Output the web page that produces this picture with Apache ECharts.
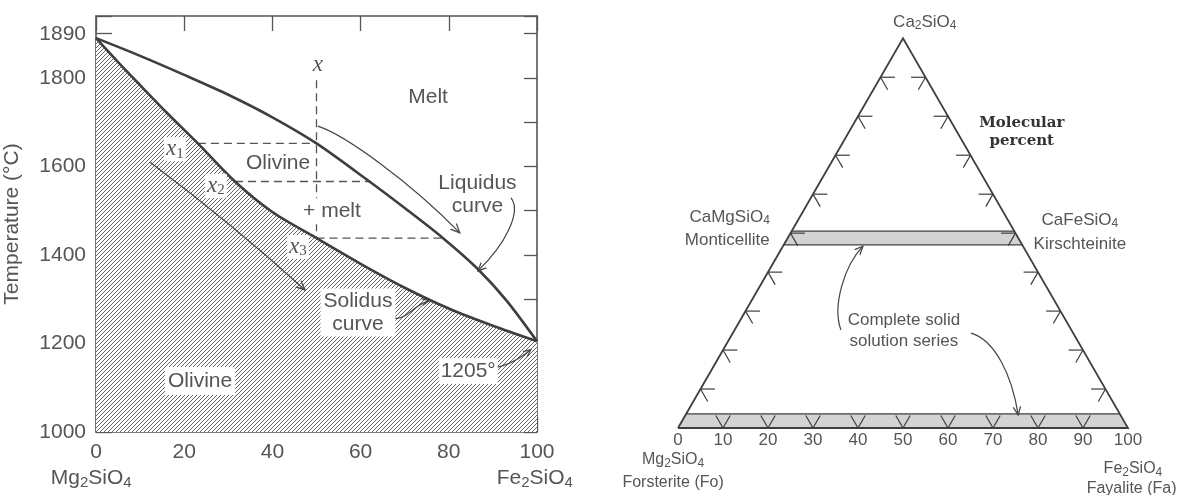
<!DOCTYPE html>
<html>
<head>
<meta charset="utf-8">
<title>Olivine phase diagram</title>
<script src="https://cdn.jsdelivr.net/npm/echarts@6.0.0/dist/echarts.min.js"></script>
<style>
html,body{margin:0;padding:0;background:#fff;}
#chart{width:1178px;height:495px;}
</style>
</head>
<body>
<div id="chart"></div>
<script>
// ---------- data: Mg2SiO4 – Fe2SiO4 binary diagram ----------
const compTicks = [0, 20, 40, 60, 80, 100];
const tempLabels = [1000, 1200, 1400, 1600, 1800];
const meltMg = 1890;
const meltFe = 1205;
const liquidusX = [0, 10, 20, 30, 40, 50, 62, 70, 78.7, 86.4, 93, 100];
const liquidusT = [1890, 1850, 1807, 1762, 1711, 1652, 1566, 1506, 1438, 1370, 1298, 1205];
const solidusX = [0, 5, 10, 16, 23.1, 31.5, 40, 50, 60, 70, 80, 90, 100];
const solidusT = [1890, 1836, 1784, 1722, 1652, 1566, 1497, 1438, 1380, 1326, 1279, 1240, 1205];
const bulkX = 50;
const bulkDashT = [1795, 1438];
const bulkSolidT = [1362, 1000];
const tieT = [1652, 1566, 1438];
const tieSolidX = [23.1, 31.5, 50];
const tieLiquidX = [50, 62, 78.7];

// ---------- data: Ca2SiO4 – Mg2SiO4 – Fe2SiO4 ternary ----------
const ternLabels = [0, 10, 20, 30, 40, 50, 60, 70, 80, 90, 100];
const ternTicks = [10, 20, 30, 40, 50, 60, 70, 80, 90];
const bandBottomCa = [0, 3.6];
const bandMidCa = [47, 50.5];

// ---------- styling ----------
const TXT = '#555';
const LINE = '#3e3e3e';
const FRAME = '#555';
const SANS = '"Liberation Sans", Arial, sans-serif';
const SERIF = '"Liberation Serif", "Times New Roman", serif';
const H = Math.sqrt(3) / 2;
// ternary -> cartesian (fa = Fe2SiO4 %, ca = Ca2SiO4 %)
function tern(fa, ca) { return [fa + ca / 2, ca * H]; }

// hatch pattern
const hatch = (function () {
  const s = 8, c = document.createElement('canvas');
  c.width = s; c.height = s;
  const g = c.getContext('2d');
  g.fillStyle = '#fff'; g.fillRect(0, 0, s, s);
  g.strokeStyle = '#5c5c5c'; g.lineWidth = 0.95;
  for (let k = 0; k <= 2 * s; k += 4) {
    g.beginPath(); g.moveTo(k + 2, -2); g.lineTo(-2, k + 2); g.stroke();
  }
  return c;
})();

const chart = echarts.init(document.getElementById('chart'), null, { renderer: 'canvas' });

const frameAxis = { show: true, onZero: false, lineStyle: { color: FRAME, width: 1.6 } };
const noSplit = { show: false };

function seg(xs, ys) { return xs.map((x, i) => [x, ys[i]]); }

const series = [
  {
    type: 'line', xAxisIndex: 0, yAxisIndex: 0, name: 'Solidus',
    data: seg(solidusX, solidusT), smooth: 0.3, symbol: 'none',
    lineStyle: { color: LINE, width: 2.6 },
    areaStyle: { color: { image: hatch, repeat: 'repeat' }, opacity: 1, origin: 'start' },
    z: 3
  },
  {
    type: 'line', xAxisIndex: 0, yAxisIndex: 0, name: 'Liquidus',
    data: seg(liquidusX, liquidusT), smooth: 0.3, symbol: 'none',
    lineStyle: { color: LINE, width: 2.6 }, z: 4
  },
  {
    type: 'line', xAxisIndex: 0, yAxisIndex: 0, symbol: 'none',
    data: bulkDashT.map(t => [bulkX, t]),
    lineStyle: { color: '#555', width: 1.3, type: [8, 5] }, z: 2
  },
  {
    type: 'line', xAxisIndex: 0, yAxisIndex: 0, symbol: 'none',
    data: bulkSolidT.map(t => [bulkX, t]),
    lineStyle: { color: '#555', width: 1.3 }, z: 2
  }
];
tieT.forEach((t, i) => {
  series.push({
    type: 'line', xAxisIndex: 0, yAxisIndex: 0, symbol: 'none',
    data: [[tieSolidX[i], t], [tieLiquidX[i], t]],
    lineStyle: { color: '#555', width: 1.3, type: [8, 5] }, z: 2
  });
});

// ternary bands
series.push({
  type: 'custom', xAxisIndex: 2, yAxisIndex: 2, clip: false, z: 1,
  data: [bandBottomCa, bandMidCa],
  renderItem: function (params, api) {
    const lo = api.value(0), hi = api.value(1);
    const pts = [tern(0, lo), tern(100 - lo, lo), tern(100 - hi, hi), tern(0, hi)].map(p => api.coord(p));
    return {
      type: 'group', children: [
        { type: 'polygon', shape: { points: pts }, style: { fill: '#d3d3d3', stroke: null } },
        { type: 'line', shape: { x1: pts[0][0], y1: pts[0][1], x2: pts[1][0], y2: pts[1][1] }, style: { stroke: LINE, lineWidth: 1.3 } },
        { type: 'line', shape: { x1: pts[3][0], y1: pts[3][1], x2: pts[2][0], y2: pts[2][1] }, style: { stroke: LINE, lineWidth: 1.3 } }
      ]
    };
  }
});
// ternary tick marks
series.push({
  type: 'custom', xAxisIndex: 2, yAxisIndex: 2, clip: false, z: 3,
  data: ternTicks.map(t => [t, 0]),
  renderItem: function (params, api) {
    const t = api.value(0), L = 3.2;
    const b = tern(t, 0), l = tern(0, t), r = tern(100 - t, t);
    const segs = [
      [b, [b[0] - L / 2, b[1] + L * H]], [b, [b[0] + L / 2, b[1] + L * H]],
      [l, [l[0] + L, l[1]]], [l, [l[0] + L / 2, l[1] - L * H]],
      [r, [r[0] - L, r[1]]], [r, [r[0] - L / 2, r[1] - L * H]]
    ];
    return {
      type: 'group', children: segs.map(s => {
        const a = api.coord(s[0]), c = api.coord(s[1]);
        return { type: 'line', shape: { x1: a[0], y1: a[1], x2: c[0], y2: c[1] }, style: { stroke: LINE, lineWidth: 1.2 } };
      })
    };
  }
});
// triangle outline
series.push({
  type: 'line', xAxisIndex: 2, yAxisIndex: 2, clip: false, symbol: 'none', z: 5,
  data: [tern(0, 0), tern(100, 0), tern(0, 100), tern(0, 0)],
  lineStyle: { color: LINE, width: 1.8, join: 'miter' }
});

const option = {
  animation: false,
  backgroundColor: '#fff',
  grid: [
    { left: 96, top: 16, width: 441, height: 416, outerBoundsMode: 'none' },
    { left: 678, top: 428 - 100 * H * 4.5, width: 450, height: 100 * H * 4.5, outerBoundsMode: 'none' }
  ],
  xAxis: [
    {
      gridIndex: 0, type: 'value', min: 0, max: 100, interval: 20, position: 'bottom',
      axisLine: frameAxis,
      axisTick: { show: true, inside: true, length: 15, lineStyle: { color: FRAME, width: 1.3 } },
      axisLabel: { show: true, margin: 10, fontSize: 21, color: TXT, fontFamily: SANS,
        formatter: v => compTicks.includes(v) ? String(v) : '' },
      splitLine: noSplit
    },
    {
      gridIndex: 0, type: 'value', min: 0, max: 100, interval: 20, position: 'top',
      axisLine: frameAxis,
      axisTick: { show: true, inside: true, length: 15, lineStyle: { color: FRAME, width: 1.3 } },
      axisLabel: { show: false }, splitLine: noSplit
    },
    {
      gridIndex: 1, type: 'value', min: 0, max: 100, interval: 10,
      axisLine: { show: false }, axisTick: { show: false },
      axisLabel: { show: true, margin: 4, fontSize: 17, color: TXT, fontFamily: SANS,
        formatter: v => ternLabels.includes(v) ? String(v) : '' },
      splitLine: noSplit
    }
  ],
  yAxis: [
    {
      gridIndex: 0, type: 'value', min: 1000, max: 1940, interval: 100, position: 'left',
      name: 'Temperature (°C)', nameLocation: 'middle', nameGap: 73,
      nameTextStyle: { fontSize: 21, color: TXT, fontFamily: SANS },
      axisLine: frameAxis,
      axisTick: { show: true, inside: true, length: 16, lineStyle: { color: FRAME, width: 1.3 } },
      axisLabel: { show: true, margin: 10, fontSize: 21, color: TXT, fontFamily: SANS,
        formatter: v => tempLabels.includes(v) ? String(v) : '' },
      splitLine: noSplit
    },
    {
      gridIndex: 0, type: 'value', min: 1000, max: 1940, interval: 100, position: 'right',
      axisLine: frameAxis,
      axisTick: { show: true, inside: true, length: 13, lineStyle: { color: FRAME, width: 1.3 } },
      axisLabel: { show: false }, splitLine: noSplit
    },
    { gridIndex: 1, type: 'value', min: 0, max: 100 * H, show: false, splitLine: noSplit }
  ],
  series: series
};
chart.setOption(option);

// ---------- annotations (positioned through the chart's own scales) ----------
function P(g, pt) { return chart.convertToPixel({ gridIndex: g }, pt); }
function T(g, pt, text, o) {
  o = o || {};
  const p = P(g, pt);
  const fs = o.fs || 21;
  const st = {
    text: text, fill: o.fill || TXT, fontSize: fs, fontFamily: o.ff || SANS,
    fontStyle: o.fst || 'normal', fontWeight: o.fw || 'normal',
    align: o.align || 'center', verticalAlign: 'middle', lineHeight: o.lh || Math.round(fs * 1.15)
  };
  if (o.bg) { st.backgroundColor = '#fff'; st.padding = o.pad || [0, 3]; }
  if (o.rich) st.rich = o.rich;
  return { type: 'text', x: p[0] + (o.dx || 0), y: p[1] + (o.dy || 0), style: st, z: 100, silent: true };
}
function subRich(fs, ff) {
  return { s: { fontSize: Math.round(fs * 0.72), lineHeight: Math.round(fs * 0.6), verticalAlign: 'bottom',
    fill: TXT, color: TXT, fontFamily: ff || SANS } };
}
function xRich(fs) {
  return {
    i: { fontFamily: SERIF, fontStyle: 'italic', fontSize: fs + 2, fill: TXT, color: TXT },
    s: { fontFamily: SERIF, fontSize: Math.round(fs * 0.72), lineHeight: Math.round(fs * 0.55), verticalAlign: 'bottom', fill: TXT, color: TXT }
  };
}
function arrow(g, pts, o) {
  o = o || {};
  const p = pts.map(q => P(g, q));
  const s = p[0], e = p[p.length - 1];
  const els = [];
  const style = { stroke: o.stroke || '#444', lineWidth: o.lw || 1.2, fill: null };
  if (p.length === 2) {
    els.push({ type: 'line', shape: { x1: s[0], y1: s[1], x2: e[0], y2: e[1] }, style: style, z: 99, silent: true });
  } else {
    const shape = { x1: s[0], y1: s[1], x2: e[0], y2: e[1], cpx1: p[1][0], cpy1: p[1][1] };
    if (p.length === 4) { shape.cpx2 = p[2][0]; shape.cpy2 = p[2][1]; }
    els.push({ type: 'bezierCurve', shape: shape, style: style, z: 99, silent: true });
  }
  const prev = p[p.length - 2];
  const ang = Math.atan2(e[1] - prev[1], e[0] - prev[0]);
  const hl = o.hl || 10, ha = 0.42;
  const a1 = [e[0] - hl * Math.cos(ang - ha), e[1] - hl * Math.sin(ang - ha)];
  const a2 = [e[0] - hl * Math.cos(ang + ha), e[1] - hl * Math.sin(ang + ha)];
  els.push({ type: 'polyline', shape: { points: [a1, e, a2] }, style: style, z: 99, silent: true });
  return els;
}

const els = [];
// left chart texts
els.push(T(0, [0, meltMg], '1890', { align: 'right', dx: -10, dy: -4 }));
els.push(T(0, [75.3, 1757], 'Melt'));
els.push(T(0, [50.3, 1829], '{i|x}', { rich: xRich(21) }));
els.push(T(0, [41.3, 1608], 'Olivine'));
els.push(T(0, [53.5, 1499], '+ melt', { bg: true, pad: [1, 2] }));
els.push(T(0, [17.9, 1639], '{i|x}{s|1}', { rich: xRich(21), bg: true, lh: 24, pad: [0, 2] }));
els.push(T(0, [27.2, 1556], '{i|x}{s|2}', { rich: xRich(21), bg: true, lh: 24, pad: [0, 2] }));
els.push(T(0, [45.8, 1418], '{i|x}{s|3}', { rich: xRich(21), bg: true, lh: 24, pad: [0, 2] }));
els.push(T(0, [86.5, 1537], 'Liquidus\ncurve', { lh: 23 }));
els.push(T(0, [23.6, 1115], 'Olivine', { bg: true, pad: [2, 3] }));
els.push(T(0, [59.4, 1270], 'Solidus\ncurve', { bg: true, lh: 23, pad: [1, 3] }));
els.push(T(0, [84.4, 1138], '1205°', { bg: true, pad: [1, 2] }));
els.push(T(0, [-1.1, 896], 'Mg{s|2}SiO{s|4}', { rich: subRich(21), lh: 24 }));
els.push(T(0, [99.5, 896], 'Fe{s|2}SiO{s|4}', { rich: subRich(21), lh: 24 }));
// left chart arrows
els.push(...arrow(0, [[50.3, 1691], [56.5, 1671], [71.2, 1565], [82.5, 1450]]));
els.push(...arrow(0, [[12.2, 1610], [30.4, 1474], [47.4, 1321]]));
els.push(...arrow(0, [[94.1, 1529], [96.6, 1497], [92.7, 1423], [86.6, 1364]], { hl: 9 }));
els.push(...arrow(0, [[67.3, 1258], [70.1, 1249], [72.3, 1290], [75.6, 1297]], { hl: 8 }));
els.push(...arrow(0, [[90.0, 1145], [93.9, 1149], [98.6, 1186]], { hl: 8 }));

// ternary texts
els.push(T(1, [47.8, 90.2], 'Ca{s|2}SiO{s|4}', { fs: 17, rich: subRich(17), lh: 20, align: 'left' }));
els.push(T(1, [76.4, 67.8], 'Molecular', { fs: 15, ff: '"DejaVu Serif", serif', fill: '#333', fw: 'bold' }));
els.push(T(1, [76.4, 63.8], 'percent', { fs: 15, ff: '"DejaVu Serif", serif', fill: '#333', fw: 'bold' }));
els.push(T(1, [20.4, 46.9], 'CaMgSiO{s|4}', { fs: 17, rich: subRich(17), lh: 20, align: 'right' }));
els.push(T(1, [20.4, 41.8], 'Monticellite', { fs: 17, align: 'right' }));
els.push(T(1, [89.3, 46.2], 'CaFeSiO{s|4}', { fs: 17, rich: subRich(17), lh: 20 }));
els.push(T(1, [89.3, 40.9], 'Kirschteinite', { fs: 17 }));
els.push(T(1, [50.2, 24.0], 'Complete solid', { fs: 17 }));
els.push(T(1, [50.2, 19.3], 'solution series', { fs: 17 }));
els.push(T(1, [-1.1, -7.1], 'Mg{s|2}SiO{s|4}', { fs: 16, rich: subRich(16), lh: 19 }));
els.push(T(1, [-1.1, -12.2], 'Forsterite (Fo)', { fs: 16 }));
els.push(T(1, [101.1, -9.1], 'Fe{s|2}SiO{s|4}', { fs: 16, rich: subRich(16), lh: 19 }));
els.push(T(1, [100.8, -13.4], 'Fayalite (Fa)', { fs: 16 }));
// ternary arrows
els.push(...arrow(1, [[36.2, 21.8], [34.2, 27.3], [37.1, 36.2], [41.1, 40.4]], { hl: 9 }));
els.push(...arrow(1, [[65.1, 21.1], [70.4, 19.6], [74.2, 11.8], [75.6, 2.9]], { hl: 9 }));

chart.setOption({ graphic: { elements: els } });
</script>
</body>
</html>
